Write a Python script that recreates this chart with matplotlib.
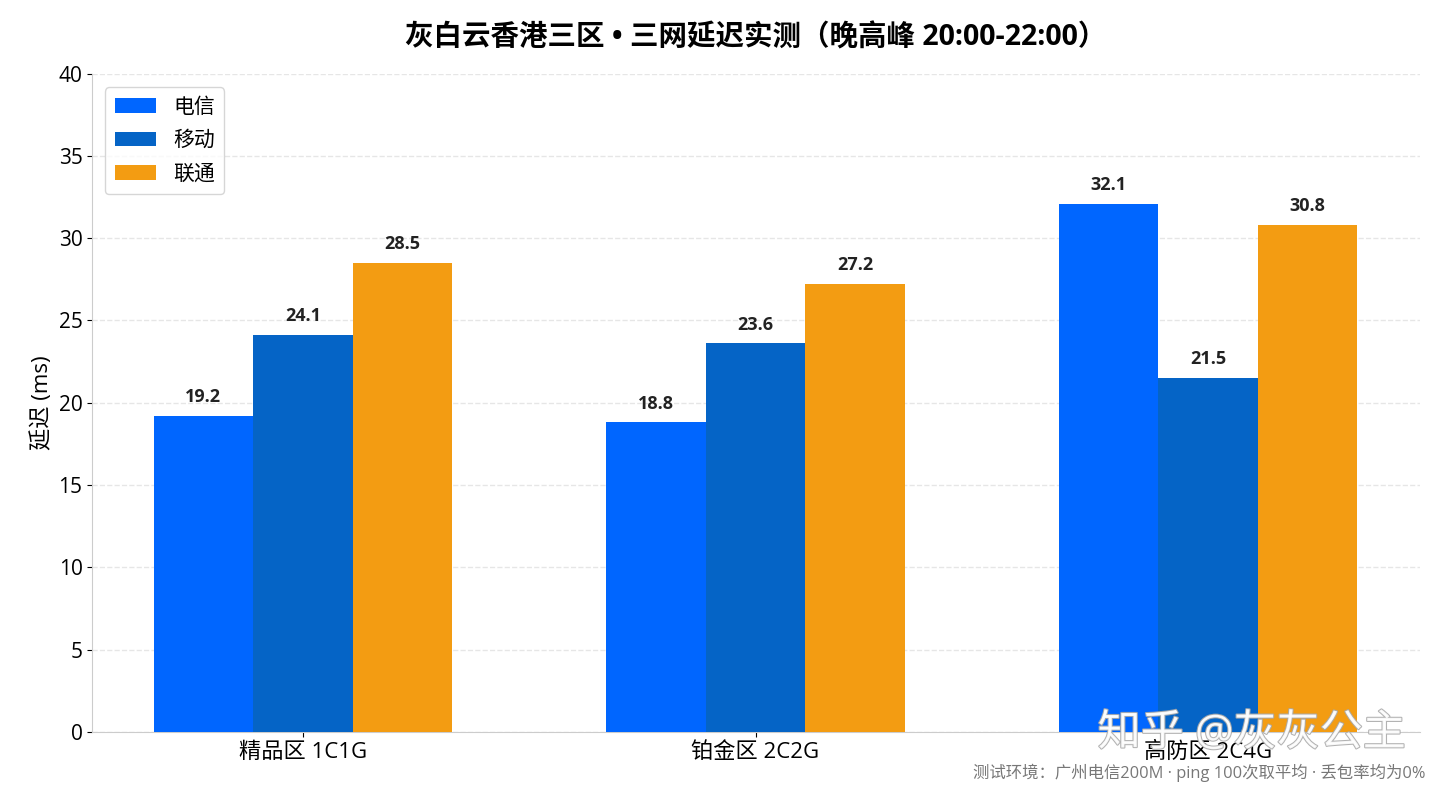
import matplotlib
matplotlib.use('Agg')
from matplotlib import pyplot as plt
from matplotlib import patheffects as pe
import numpy as np

# 数据
plans = ['精品区 1C1G', '铂金区 2C2G', '高防区 2C4G']
carriers = ['电信', '移动', '联通']
telecom = [19.2, 18.8, 32.1]
mobile = [24.1, 23.6, 21.5]
unicom = [28.5, 27.2, 30.8]
colors = ['#0066FF', '#0564C6', '#F39C12']

plt.rcParams['font.family'] = ['Open Sans', 'Noto Sans CJK SC', 'DejaVu Sans']

fig = plt.figure(figsize=(14.4, 7.92), dpi=100)
ax = fig.add_axes([0.064, 0.076, 0.922, 0.831])

x = np.arange(len(plans))
w = 0.22
for i, (vals, name) in enumerate(zip([telecom, mobile, unicom], carriers)):
    bars = ax.bar(x + (i - 1) * w, vals, w, color=colors[i], label=name, zorder=3)
    for b, v in zip(bars, vals):
        ax.text(b.get_x() + b.get_width() / 2, v + 0.6, f'{v:.1f}',
                ha='center', va='bottom', fontsize=13, fontweight='bold', color='#222222')

ax.set_xlim(-0.466, 2.468)
ax.set_ylim(0, 40)
ax.set_yticks(range(0, 41, 5))
ax.set_xticks(x)
ax.set_xticklabels(plans, fontsize=16)
ax.tick_params(axis='y', labelsize=15)
ax.set_ylabel('延迟 (ms)', fontsize=16)
ax.yaxis.grid(True, linestyle='--', color='#e6e6e6', linewidth=1, zorder=0)
for s in ['top', 'right']:
    ax.spines[s].set_visible(False)
for s in ['left', 'bottom']:
    ax.spines[s].set_color('#cccccc')

ax.set_title('灰白云香港三区 • 三网延迟实测（晚高峰 20:00-22:00）',
             fontsize=20.5, fontweight='bold', pad=20)
ax.legend(loc='upper left', fontsize=15, frameon=True, edgecolor='#cccccc',
          borderpad=0.45, labelspacing=0.6, handlelength=2.0,
          bbox_to_anchor=(0.002, 0.995))

fig.text(0.99, 0.012, '测试环境：广州电信200M · ping 100次取平均 · 丢包率均为0%',
         ha='right', va='bottom', fontsize=11.8, color='#777777')

# 水印
fig.text(0.976, 0.045, '知乎 @灰灰公主', ha='right', va='bottom', fontsize=31,
         color='white', alpha=0.9,
         path_effects=[pe.withStroke(linewidth=1.5, foreground='#aaaaaa')], zorder=10)

fig.savefig('out.png', dpi=100)
